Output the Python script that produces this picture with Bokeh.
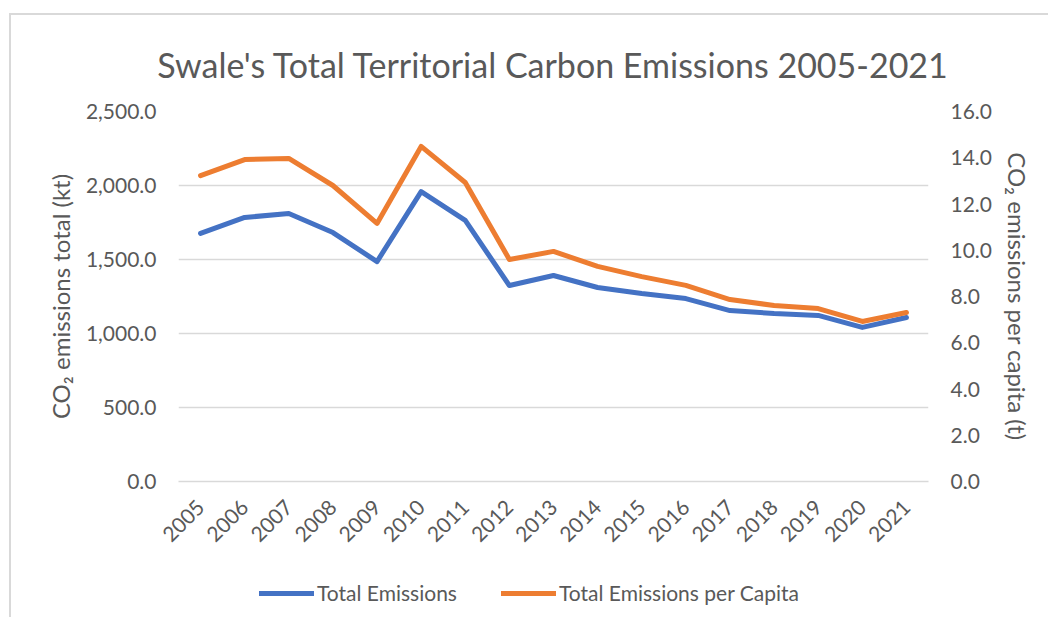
from bokeh.plotting import figure
from bokeh.layouts import column
from bokeh.models import (Range1d, LinearAxis, FixedTicker, NumeralTickFormatter,
                          Legend, LegendItem, ColumnDataSource, FactorRange)
from bokeh.embed import file_html
from bokeh.resources import INLINE
import math

years = [str(y) for y in range(2005, 2022)]
total_emissions = [1676, 1784, 1811, 1682, 1486, 1959, 1764, 1324, 1392, 1311,
                   1270, 1236, 1155, 1135, 1122, 1041, 1108]
per_capita = [13.23, 13.92, 13.97, 12.80, 11.16, 14.49, 12.93, 9.60, 9.95, 9.30,
              8.86, 8.48, 7.87, 7.61, 7.48, 6.92, 7.31]
left_ticks = [0, 500, 1000, 1500, 2000, 2500]
right_ticks = [0, 2, 4, 6, 8, 10, 12, 14, 16]
series_names = ["Total Emissions", "Total Emissions per Capita"]

FONT = "Lato"
TXT = "#595959"
BLUE = "#4472C4"
ORANGE = "#ED7D31"
GRID = "#D9D9D9"

src = ColumnDataSource(dict(year=years, total=total_emissions, pc=per_capita))

p = figure(frame_width=750, frame_height=370, x_range=FactorRange(*years),
           y_range=Range1d(0, 2500), output_backend="svg", toolbar_location=None,
           min_border_left=167, min_border_right=120, min_border_top=96,
           min_border_bottom=80)
p.extra_y_ranges = {"right": Range1d(0, 16)}

p.title.text = "Swale's Total Territorial Carbon Emissions 2005-2021"
p.title.text_font = FONT
p.title.text_font_size = "34px"
p.title.text_font_style = "normal"
p.title.text_color = TXT
p.title.align = "center"
p.title.offset = -13
p.title.standoff = 53

p.outline_line_color = None
p.xgrid.grid_line_color = None
p.ygrid.grid_line_color = GRID
p.ygrid.grid_line_width = 1.5
p.ygrid.ticker = FixedTicker(ticks=left_ticks)

# left axis
ya = p.yaxis[0]
ya.ticker = FixedTicker(ticks=left_ticks)
ya.formatter = NumeralTickFormatter(format="0,0.0")
ya.axis_label = "CO\u2082 emissions total (kt)"

# right axis
ra = LinearAxis(y_range_name="right", ticker=FixedTicker(ticks=right_ticks),
                formatter=NumeralTickFormatter(format="0.0"),
                axis_label="CO\u2082 emissions per capita (t)")
p.add_layout(ra, "right")

for ax in (ya, ra):
    ax.axis_line_color = None
    ax.major_tick_line_color = None
    ax.minor_tick_line_color = None
    ax.major_tick_out = 0
    ax.major_tick_in = 0
    ax.major_label_text_font = FONT
    ax.major_label_text_font_size = "21px"
    ax.major_label_text_color = TXT
    ax.major_label_standoff = 22
    ax.axis_label_text_font = FONT
    ax.axis_label_text_font_size = "24px"
    ax.axis_label_text_font_style = "normal"
    ax.axis_label_text_color = TXT
    ax.axis_label_standoff = 8

xa = p.xaxis[0]
xa.axis_line_color = GRID
xa.axis_line_width = 1.5
xa.major_tick_line_color = None
xa.major_tick_out = 0
xa.major_label_orientation = math.pi / 4
xa.major_label_text_font = FONT
xa.major_label_text_font_size = "21px"
xa.major_label_text_color = TXT
xa.major_label_standoff = 22

p.line("year", "total", source=src, line_color=BLUE, line_width=5,
       line_join="round", line_cap="round")
p.line("year", "pc", source=src, y_range_name="right", line_color=ORANGE,
       line_width=5, line_join="round", line_cap="round")

# legend strip below the chart (its lines fall outside its visible range)
lg = figure(width=1037, height=56, x_range=FactorRange(*years),
            y_range=Range1d(-2, -1), output_backend="svg", toolbar_location=None,
            x_axis_type=None, y_axis_type=None,
            min_border_left=0, min_border_right=0, min_border_top=0,
            min_border_bottom=0)
lg.outline_line_color = None
lg.xgrid.grid_line_color = None
lg.ygrid.grid_line_color = None
l1 = lg.line("year", "total", source=src, line_color=BLUE, line_width=5,
             line_cap="round")
l2 = lg.line("year", "pc", source=src, line_color=ORANGE, line_width=5,
             line_cap="round")

legend = Legend(items=[LegendItem(label=series_names[0], renderers=[l1]),
                       LegendItem(label=series_names[1], renderers=[l2])],
                orientation="horizontal", location=(81, 12))
legend.label_text_font = FONT
legend.label_text_font_size = "21px"
legend.label_text_color = TXT
legend.glyph_width = 55
legend.label_standoff = 3
legend.spacing = 44
legend.padding = 2
legend.margin = 0
legend.border_line_color = None
legend.background_fill_alpha = 0
lg.add_layout(legend, "center")

layout = column(p, lg, spacing=0)
layout.styles = {"margin-left": "9px", "margin-top": "13px",
                 "border-left": "2px solid #D9D9D9", "border-top": "2px solid #D9D9D9"}

open("out.html", "w").write(file_html(layout, INLINE))
